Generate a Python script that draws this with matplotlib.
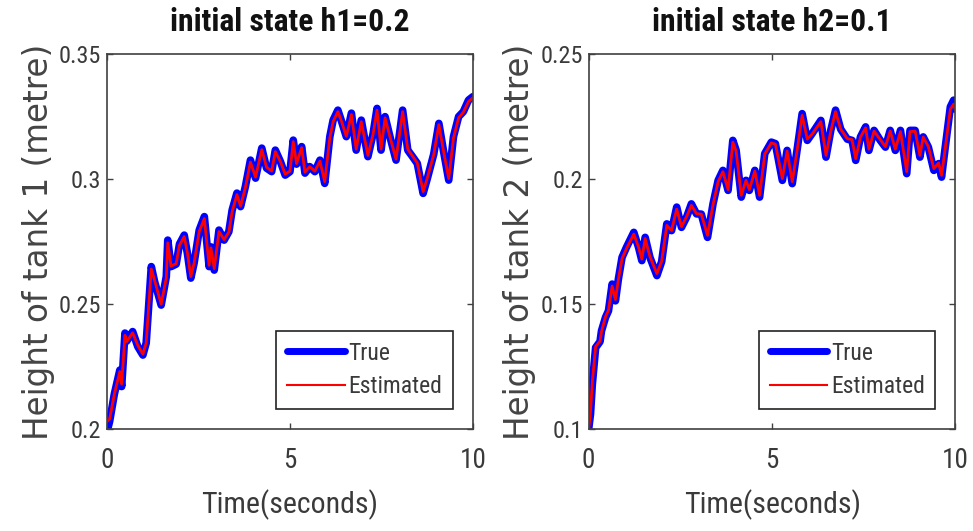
import matplotlib
matplotlib.use("Agg")
import matplotlib.pyplot as plt
from matplotlib import font_manager
from matplotlib.font_manager import FontProperties

# ---------------- data ----------------
t1 = [0.0, 0.07, 0.2, 0.35, 0.4, 0.49, 0.54, 0.7, 0.84, 0.98, 1.07, 1.21, 1.3, 1.48, 1.62, 1.66,
      1.75, 1.89, 1.98, 2.11, 2.2, 2.29, 2.38, 2.52, 2.66, 2.79, 2.84, 2.93, 3.06, 3.2, 3.33, 3.42,
      3.55, 3.65, 3.78, 3.92, 4.06, 4.23, 4.36, 4.5, 4.6, 4.74, 4.87, 5.0, 5.09, 5.18, 5.32, 5.41,
      5.54, 5.68, 5.82, 5.95, 6.09, 6.18, 6.31, 6.4, 6.54, 6.68, 6.81, 6.95, 7.13, 7.27, 7.38, 7.49,
      7.6, 7.75, 7.9, 8.08, 8.22, 8.35, 8.48, 8.64, 8.75, 8.93, 9.07, 9.2, 9.34, 9.47, 9.61, 9.74,
      9.88, 10.0]
h1_true = [0.199, 0.203, 0.214, 0.2236, 0.217, 0.2384, 0.2352, 0.239, 0.233, 0.2296, 0.2344, 0.265,
           0.259, 0.2496, 0.261, 0.2756, 0.265, 0.266, 0.274, 0.2776, 0.27, 0.2604, 0.2664, 0.2796,
           0.285, 0.265, 0.2729, 0.2636, 0.2796, 0.2756, 0.279, 0.2876, 0.2944, 0.289, 0.2969, 0.3076,
           0.3004, 0.3124, 0.3044, 0.303, 0.3116, 0.307, 0.3016, 0.303, 0.3156, 0.306, 0.313, 0.3024,
           0.305, 0.303, 0.3076, 0.2983, 0.317, 0.3236, 0.3276, 0.3236, 0.317, 0.3264, 0.3116, 0.3236,
           0.309, 0.318, 0.3283, 0.3116, 0.325, 0.316, 0.3076, 0.3276, 0.3116, 0.309, 0.3063, 0.2943,
           0.3, 0.31, 0.3223, 0.311, 0.2996, 0.317, 0.325, 0.327, 0.3316, 0.333]
h1_est = [0.203, 0.204, 0.214, 0.2230, 0.218, 0.2375, 0.2350, 0.2385, 0.2335, 0.2300, 0.2344, 0.2640,
          0.2595, 0.2500, 0.2605, 0.2745, 0.2652, 0.2662, 0.2735, 0.2770, 0.2702, 0.2610, 0.2664, 0.2790,
          0.2842, 0.2655, 0.2725, 0.2642, 0.2790, 0.2758, 0.2788, 0.2870, 0.2938, 0.2892, 0.2965, 0.3068,
          0.3008, 0.3118, 0.3048, 0.3032, 0.3110, 0.3070, 0.3020, 0.3032, 0.3150, 0.3062, 0.3126, 0.3028,
          0.3050, 0.3032, 0.3072, 0.2990, 0.3165, 0.3230, 0.3270, 0.3235, 0.3172, 0.3258, 0.3120, 0.3230,
          0.3095, 0.3178, 0.3276, 0.3120, 0.3245, 0.3160, 0.3080, 0.3270, 0.3120, 0.3092, 0.3065, 0.2950,
          0.3002, 0.3098, 0.3218, 0.3110, 0.3002, 0.3165, 0.3245, 0.3268, 0.3310, 0.3325]

t2 = [0.0, 0.05, 0.1, 0.19, 0.31, 0.35, 0.46, 0.54, 0.64, 0.73, 0.81, 0.91, 1.03, 1.23, 1.36, 1.45,
      1.54, 1.67, 1.86, 1.99, 2.13, 2.26, 2.4, 2.53, 2.67, 2.8, 2.94, 3.07, 3.24, 3.39, 3.53, 3.66,
      3.8, 3.93, 4.02, 4.16, 4.29, 4.38, 4.53, 4.66, 4.8, 4.98, 5.09, 5.28, 5.41, 5.55, 5.68, 5.82,
      5.96, 6.09, 6.33, 6.47, 6.6, 6.73, 6.87, 7.05, 7.18, 7.28, 7.41, 7.55, 7.64, 7.78, 7.95, 8.09,
      8.22, 8.36, 8.5, 8.67, 8.76, 8.9, 9.03, 9.12, 9.26, 9.41, 9.54, 9.62, 9.71, 9.86, 9.95, 10.0]
h2_true = [0.1, 0.106, 0.118, 0.1326, 0.135, 0.1393, 0.1447, 0.1473, 0.158, 0.1513, 0.16, 0.1687,
           0.1727, 0.1787, 0.1727, 0.1674, 0.1767, 0.1687, 0.1614, 0.167, 0.1821, 0.1794, 0.1888,
           0.1807, 0.1848, 0.1901, 0.1861, 0.186, 0.1767, 0.1901, 0.1995, 0.2035, 0.1955, 0.2155,
           0.2115, 0.1928, 0.1995, 0.1955, 0.2035, 0.1928, 0.2102, 0.2148, 0.2142, 0.1995, 0.2115,
           0.1982, 0.2115, 0.2262, 0.2155, 0.2182, 0.2235, 0.2088, 0.2195, 0.2276, 0.22, 0.216,
           0.2155, 0.2075, 0.2169, 0.2209, 0.2115, 0.2195, 0.2155, 0.2128, 0.2195, 0.2115, 0.2195,
           0.2022, 0.2195, 0.2195, 0.2088, 0.2169, 0.2128, 0.2035, 0.2062, 0.2008, 0.2115, 0.2289,
           0.2316, 0.228]
h2_est = [0.1, 0.107, 0.119, 0.1330, 0.1352, 0.1390, 0.1450, 0.1475, 0.1572, 0.1518, 0.1598, 0.1682,
          0.1722, 0.1780, 0.1728, 0.1680, 0.1762, 0.1690, 0.1622, 0.1672, 0.1815, 0.1795, 0.1880,
          0.1810, 0.1850, 0.1895, 0.1862, 0.1860, 0.1775, 0.1898, 0.1990, 0.2030, 0.1958, 0.2148,
          0.2112, 0.1935, 0.1995, 0.1958, 0.2032, 0.1935, 0.2100, 0.2145, 0.2140, 0.2002, 0.2112,
          0.1990, 0.2112, 0.2255, 0.2160, 0.2180, 0.2230, 0.2095, 0.2192, 0.2270, 0.2200, 0.2162,
          0.2158, 0.2082, 0.2168, 0.2205, 0.2120, 0.2192, 0.2158, 0.2130, 0.2192, 0.2120, 0.2190,
          0.2030, 0.2190, 0.2192, 0.2095, 0.2168, 0.2130, 0.2042, 0.2065, 0.2015, 0.2112, 0.2280,
          0.2300, 0.2275]

titles = ["initial state h1=0.2", "initial state h2=0.1"]
ylabels = ["Height of tank 1 (metre)", "Height of tank 2 (metre)"]
xlabel = "Time(seconds)"
xticks = [0, 5, 10]
yticks1 = [0.2, 0.25, 0.3, 0.35]
yticklabels1 = ["0.2", "0.25", "0.3", "0.35"]
yticks2 = [0.1, 0.15, 0.2, 0.25]
yticklabels2 = ["0.1", "0.15", "0.2", "0.25"]
legend_labels = ["True", "Estimated"]

# ---------------- fonts ----------------
def _w(f):
    w = f.weight
    if isinstance(w, str):
        return 700 if "bold" in w.lower() else 400
    return int(w)

def find_condensed(bold):
    pref = ["Liberation Sans Narrow", "Arial Narrow", "Roboto Condensed", "Open Sans Condensed",
            "Noto Sans", "Liberation Sans", "Roboto", "Open Sans", "DejaVu Sans", "Lato", "Inter"]
    found = []
    for f in font_manager.fontManager.ttflist:
        nm = f.name
        fn = f.fname.lower()
        is_cond = (str(f.stretch) in ("condensed", "semi-condensed", "extra-condensed")
                   or "narrow" in nm.lower() or "condensed" in nm.lower()
                   or "condensed" in fn or "narrow" in fn)
        if not is_cond or f.style != "normal":
            continue
        if "mono" in nm.lower() or "serif" in nm.lower() or "mono" in fn or "serif" in fn:
            continue
        if "extracond" in fn or "semicond" in fn:
            continue
        wt = _w(f)
        if bold and wt < 600:
            continue
        if not bold and wt != 400:
            continue
        rank = len(pref)
        for i, p in enumerate(pref):
            if nm.startswith(p):
                rank = i
                break
        found.append((rank, f.fname))
    found.sort()
    return found[0][1] if found else None

reg_file = find_condensed(False)
bold_file = find_condensed(True)
cond = reg_file is not None and bold_file is not None

base = "Liberation Sans"

def fp(size, bold=False):
    if cond:
        return FontProperties(fname=bold_file if bold else reg_file, size=size)
    return FontProperties(family=base, size=size / 1.2, weight="bold" if bold else "normal")

txt = "#3a3a3a"
spine = "#404040"

fig = plt.figure(figsize=(9.73, 5.31), dpi=100)
ax1 = fig.add_axes([0.110, 0.192, 0.376, 0.706])
ax2 = fig.add_axes([0.605, 0.192, 0.377, 0.706])

specs = [
    (ax1, t1, h1_true, h1_est, titles[0], ylabels[0], yticks1, yticklabels1, (0.2, 0.35)),
    (ax2, t2, h2_true, h2_est, titles[1], ylabels[1], yticks2, yticklabels2, (0.1, 0.25)),
]

for ax, t, ht, he, title, ylab, yt, ytl, ylim in specs:
    ax.plot(t, ht, color="#0000ff", lw=5.5, solid_joinstyle="round",
            solid_capstyle="round", label=legend_labels[0])
    ax.plot(t, he, color="#ff0000", lw=2.0, solid_joinstyle="round",
            label=legend_labels[1])
    ax.set_xlim(0, 10)
    ax.set_ylim(*ylim)
    ax.set_xticks(xticks)
    ax.set_xticklabels([str(v) for v in xticks], fontproperties=fp(19.5), color=txt)
    ax.set_yticks(yt)
    ax.set_yticklabels(ytl, fontproperties=fp(17.5), color=txt)
    ax.tick_params(direction="in", length=4, width=1, color=spine,
                   top=True, right=True)
    ax.tick_params(axis="x", pad=13)
    ax.tick_params(axis="y", pad=4)
    for s in ax.spines.values():
        s.set_color(spine)
        s.set_linewidth(1.2)
    ax.set_title(title, fontproperties=fp(22.8, bold=True), color="#111111", pad=17)
    ax.set_xlabel(xlabel, fontproperties=fp(21.5), color=txt, labelpad=11)
    ax.set_ylabel(ylab, family="DejaVu Sans", fontsize=23.5, color="#444444", labelpad=3)
    leg = ax.legend(loc="lower right", prop=fp(17),
                    frameon=True, fancybox=False, framealpha=1, edgecolor="#222222",
                    handlelength=2.45, handletextpad=0.15, labelspacing=0.45,
                    borderpad=0.45, borderaxespad=0.85)
    leg.get_frame().set_linewidth(1.2)
    for text in leg.get_texts():
        text.set_color(txt)
    leg.get_lines()[0].set_linewidth(5)
    leg.get_lines()[1].set_linewidth(1.5)

fig.savefig("out.png", dpi=100, facecolor="white")
